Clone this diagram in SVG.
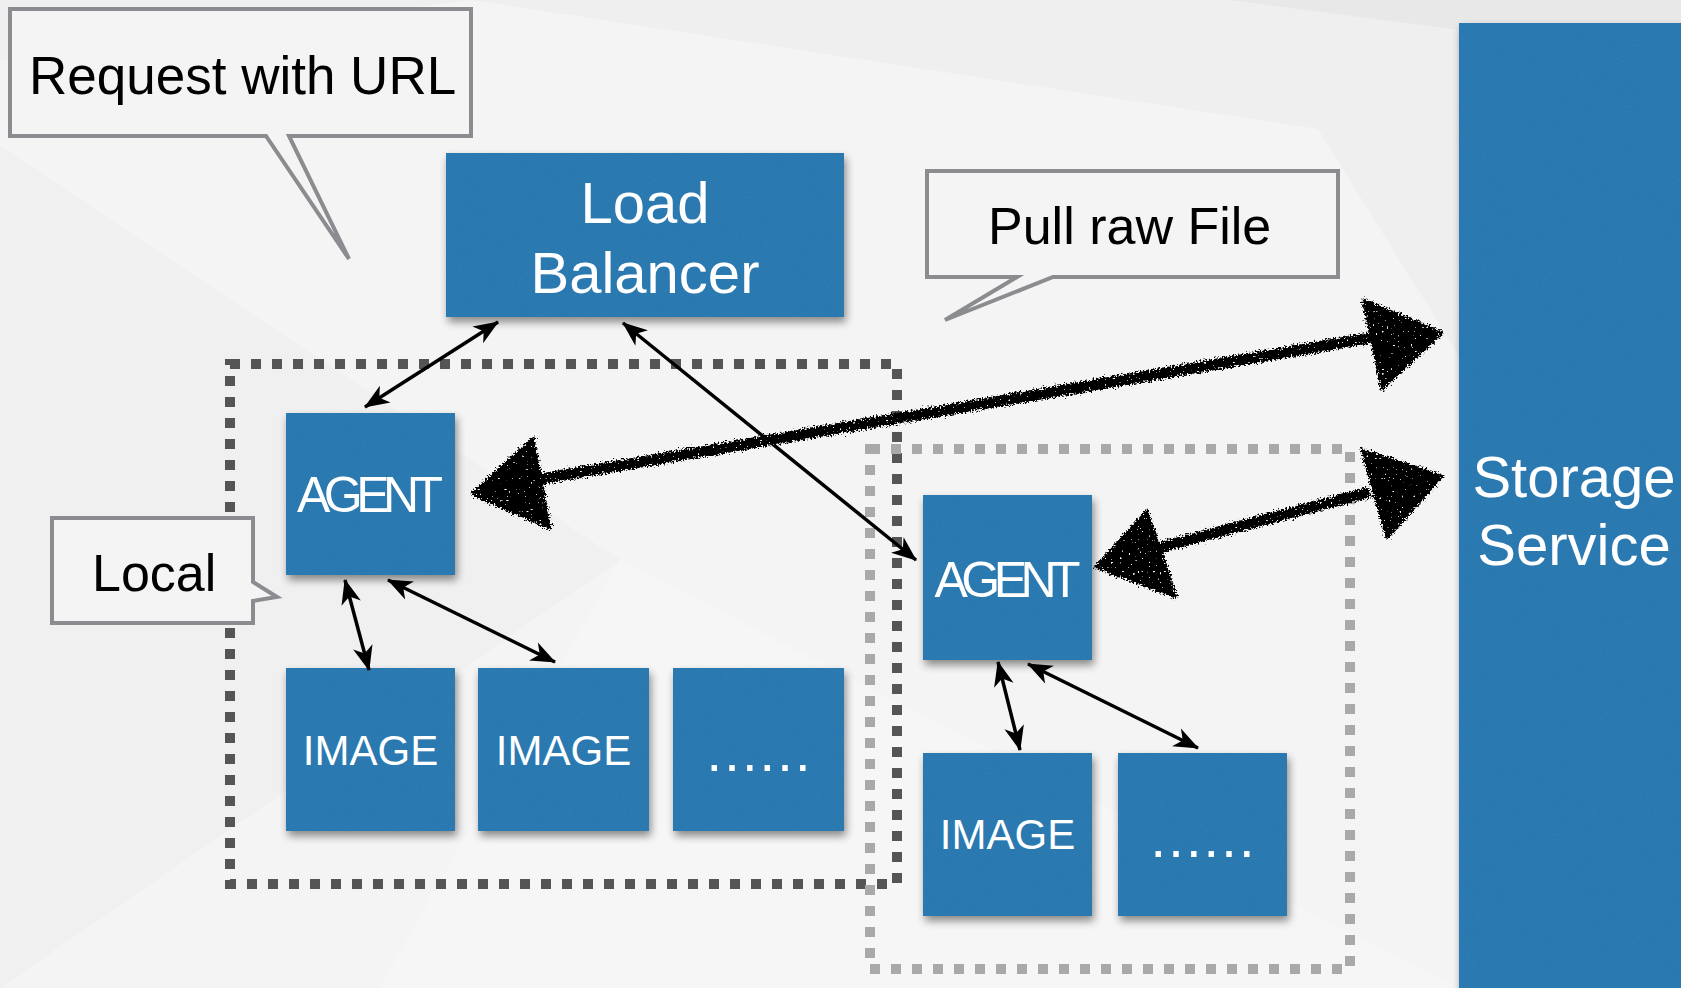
<svg xmlns="http://www.w3.org/2000/svg" width="1681" height="988" viewBox="0 0 1681 988">
  <defs>
    <style>
      .card { fill: #2d7cb3; filter: url(#paper); }
      .label { font-family: "Liberation Sans", Arial, Helvetica, sans-serif; fill: #ffffff; text-anchor: middle; }
      .callout { fill: #f4f4f4; stroke: #8a8c8f; stroke-width: 4; stroke-linejoin: miter; }
      .note { font-family: "Liberation Sans", Arial, Helvetica, sans-serif; fill: #000000; font-size: 52px; }
      .link { fill: none; stroke: #000000; stroke-width: 3.5; marker-start: url(#head); marker-end: url(#head); }
      .zone { fill: none; stroke-width: 10; stroke-dasharray: 10 11; }
      .sketch { fill: #000000; stroke: #000000; stroke-linejoin: round; }
    </style>
    <!-- blue paper texture plus soft drop shadow -->
    <filter id="paper" x="-5%" y="-5%" width="115%" height="120%">
      <feTurbulence type="fractalNoise" baseFrequency="0.75" numOctaves="3" seed="5" result="n"/>
      <feColorMatrix in="n" type="matrix" values="0 0 0 0 0  0 0 0 0 0.1  0 0 0 0 0.2  0.35 0 0 0 -0.12" result="nd"/>
      <feComposite in="nd" in2="SourceAlpha" operator="in" result="tex"/>
      <feGaussianBlur in="SourceAlpha" stdDeviation="4" result="b"/>
      <feOffset in="b" dx="2" dy="5" result="o"/>
      <feComponentTransfer in="o" result="sh"><feFuncA type="linear" slope="0.45"/></feComponentTransfer>
      <feMerge><feMergeNode in="sh"/><feMergeNode in="SourceGraphic"/><feMergeNode in="tex"/></feMerge>
    </filter>
    <!-- chalky, ragged edges with white specks for the hand-drawn arrows -->
    <filter id="rough" x="-10%" y="-25%" width="120%" height="150%">
      <feTurbulence type="fractalNoise" baseFrequency="0.55" numOctaves="2" seed="7" result="t"/>
      <feDisplacementMap in="SourceGraphic" in2="t" scale="9" xChannelSelector="R" yChannelSelector="G" result="d"/>
      <feTurbulence type="fractalNoise" baseFrequency="0.45" numOctaves="1" seed="2" result="s"/>
      <feColorMatrix in="s" type="matrix" values="0 0 0 0 1  0 0 0 0 1  0 0 0 0 1  16 0 0 0 -11.2" result="spk"/>
      <feComposite in="spk" in2="d" operator="in" result="spk2"/>
      <feMerge><feMergeNode in="d"/><feMergeNode in="spk2"/></feMerge>
    </filter>
    <marker id="head" viewBox="-25 -11 27 22" refX="0" refY="0" markerWidth="27" markerHeight="22" markerUnits="userSpaceOnUse" orient="auto-start-reverse">
      <path d="M1,0 L-24,-10 L-17,0 L-24,10 Z" fill="#000000"/>
    </marker>
  </defs>

  <!-- faceted backdrop -->
  <g id="backdrop">
    <rect x="0" y="0" width="1681" height="988" fill="#f4f4f4"/>
    <polygon points="472,0 1459,0 1459,356 1318,129" fill="#efefef"/>
    <polygon points="1230,0 1681,0 1681,23 1459,23 1459,30" fill="#e8e8e8"/>
    <polygon points="0,0 472,0 0,60" fill="#efefef"/>
    <polygon points="0,146 620,560 0,988" fill="#f0f0f0"/>
    <polygon points="620,560 1459,988 380,988" fill="#f6f6f6"/>
  </g>

  <!-- dashed groupings -->
  <g id="zones">
    <rect id="zone-local" class="zone" x="230" y="364" width="667" height="520" stroke="#555555"/>
    <rect id="zone-remote" class="zone" x="870" y="449" width="480" height="520" stroke="#a9a9a9"/>
  </g>

  <!-- callouts -->
  <g id="callout-request">
    <path class="callout" d="M10,9 H471 V136 H289 L349,259 L266,136 H10 Z"/>
    <text class="note" x="29" y="94" style="font-size:53px">Request with URL</text>
  </g>
  <g id="callout-pull">
    <path class="callout" d="M927,171 H1338 V277 H1053 L945,320 L1017,277 H927 Z"/>
    <text class="note" x="988" y="244">Pull raw File</text>
  </g>
  <g id="callout-local">
    <path class="callout" d="M52,518 H253 V582 L277,597 L253,601 V623 H52 Z"/>
    <text class="note" x="92" y="591">Local</text>
  </g>

  <!-- nodes -->
  <g id="load-balancer">
    <rect class="card" x="446" y="153" width="398" height="164"/>
    <text class="label" x="645" y="223" font-size="58">Load</text>
    <text class="label" x="645" y="293" font-size="58">Balancer</text>
  </g>
  <g id="storage-service">
    <rect class="card" x="1459" y="23" width="240" height="990"/>
    <text class="label" x="1574" y="497" font-size="58">Storage</text>
    <text class="label" x="1574" y="565" font-size="58">Service</text>
  </g>
  <g id="agent-local">
    <rect class="card" x="286" y="413" width="169" height="162"/>
    <text class="label" x="370" y="512" font-size="50" textLength="146" lengthAdjust="spacing">AGENT</text>
  </g>
  <g id="image-local-1">
    <rect class="card" x="286" y="668" width="169" height="163"/>
    <text class="label" x="370.5" y="765" font-size="42">IMAGE</text>
  </g>
  <g id="image-local-2">
    <rect class="card" x="478" y="668" width="171" height="163"/>
    <text class="label" x="563.5" y="765" font-size="42">IMAGE</text>
  </g>
  <g id="more-local">
    <rect class="card" x="673" y="668" width="171" height="163"/>
    <text class="label" x="758.5" y="771" font-size="56" textLength="104" lengthAdjust="spacing">......</text>
  </g>
  <g id="agent-remote">
    <rect class="card" x="923" y="495" width="169" height="165"/>
    <text class="label" x="1007.5" y="597" font-size="50" textLength="146" lengthAdjust="spacing">AGENT</text>
  </g>
  <g id="image-remote-1">
    <rect class="card" x="923" y="753" width="169" height="163"/>
    <text class="label" x="1007.5" y="849" font-size="42">IMAGE</text>
  </g>
  <g id="more-remote">
    <rect class="card" x="1118" y="753" width="169" height="163"/>
    <text class="label" x="1202.5" y="857" font-size="56" textLength="104" lengthAdjust="spacing">......</text>
  </g>

  <!-- connectors -->
  <g id="connectors">
    <line class="link" x1="498" y1="322" x2="365" y2="407"/>
    <line class="link" x1="623" y1="323" x2="916" y2="560"/>
    <line class="link" x1="345" y1="580" x2="369" y2="670"/>
    <line class="link" x1="388" y1="580" x2="555" y2="662"/>
    <line class="link" x1="998" y1="662" x2="1020" y2="750"/>
    <line class="link" x1="1028" y1="664" x2="1198" y2="748"/>

    <g id="sketch-pull-local" filter="url(#rough)">
      <path class="sketch" d="M535,480 L1370,338" stroke-width="11" fill="none"/>
      <polygon class="sketch" stroke-width="3" points="472,494 533,438 550,528"/>
      <polygon class="sketch" stroke-width="3" points="1442,333 1363,300 1382,389"/>
    </g>
    <g id="sketch-pull-remote" filter="url(#rough)">
      <path class="sketch" d="M1150,550 L1370,492" stroke-width="11" fill="none"/>
      <polygon class="sketch" stroke-width="3" points="1096,567 1147,511 1176,597"/>
      <polygon class="sketch" stroke-width="3" points="1442,476 1362,450 1387,538"/>
    </g>
  </g>
</svg>
